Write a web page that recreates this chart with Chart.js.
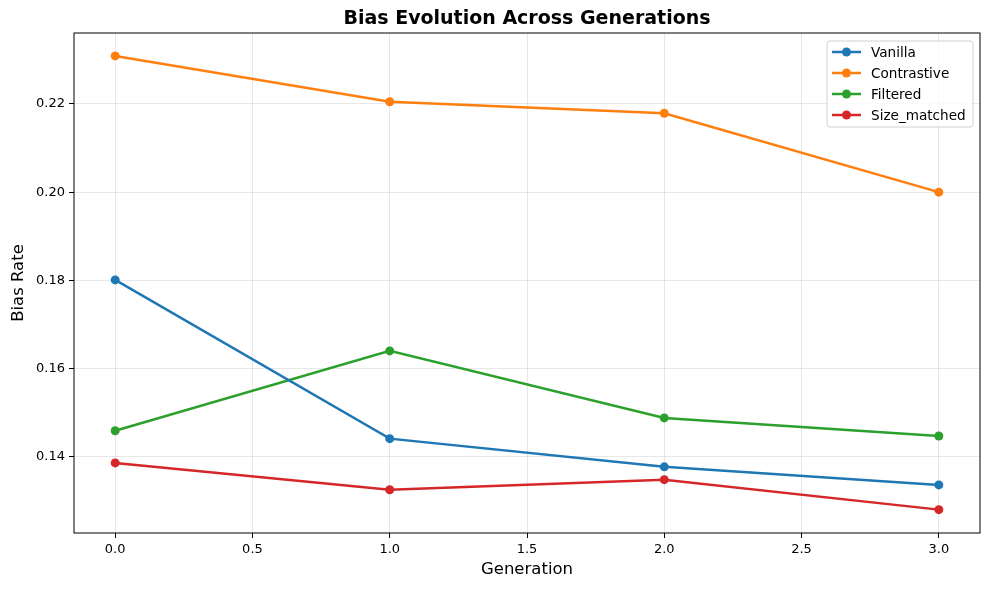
<!DOCTYPE html>
<html>
<head>
<meta charset="utf-8">
<script src="https://cdn.jsdelivr.net/npm/chart.js@4.4.1/dist/chart.umd.min.js"></script>
<style>
  body { margin: 0; background: #fff; }
  #wrap { width: 989px; height: 590px; }
</style>
</head>
<body>
<div id="wrap"><canvas id="c" width="989" height="590"></canvas></div>
<script>
var generations = [0, 1, 2, 3];
var vanilla = [0.1801, 0.1441, 0.1377, 0.1336];
var contrastive = [0.2309, 0.2205, 0.2179, 0.2000];
var filtered = [0.1459, 0.1640, 0.1488, 0.1447];
var sizeMatched = [0.1386, 0.1325, 0.1348, 0.1280];
var seriesNames = ['Vanilla', 'Contrastive', 'Filtered', 'Size_matched'];
var colors = ['#1f77b4', '#ff7f0e', '#2ca02c', '#d62728'];
var xTicks = [0, 0.5, 1, 1.5, 2, 2.5, 3];
var yTicks = [0.14, 0.16, 0.18, 0.20, 0.22];

var font = 'DejaVu Sans';

function pts(vals) {
  return generations.map(function(g, i) { return { x: g, y: vals[i] }; });
}

var datasets = [vanilla, contrastive, filtered, sizeMatched].map(function(vals, i) {
  return {
    label: seriesNames[i],
    data: pts(vals),
    borderColor: colors[i],
    backgroundColor: colors[i],
    borderWidth: 2.5,
    pointRadius: 4.5,
    pointHoverRadius: 4.5,
    pointBorderWidth: 0,
    tension: 0
  };
});

// frame, title and legend in matplotlib style
var extras = {
  id: 'extras',
  afterDraw: function(chart) {
    var ctx = chart.ctx, a = chart.chartArea;
    ctx.save();
    ctx.strokeStyle = '#000';
    ctx.lineWidth = 1;
    ctx.strokeRect(a.left, a.top, a.right - a.left, a.bottom - a.top);

    ctx.fillStyle = '#000';
    ctx.font = 'bold 19px ' + font;
    ctx.textAlign = 'center';
    ctx.textBaseline = 'middle';
    ctx.fillText('Bias Evolution Across Generations', (a.left + a.right) / 2, 19);

    // legend box
    var bx = 827, by = 41, bw = 146, bh = 86;
    ctx.fillStyle = 'rgba(255,255,255,0.8)';
    ctx.strokeStyle = '#d0d0d0';
    ctx.beginPath();
    if (ctx.roundRect) ctx.roundRect(bx, by, bw, bh, 3); else ctx.rect(bx, by, bw, bh);
    ctx.fill();
    ctx.stroke();
    ctx.font = '13.6px ' + font;
    ctx.textAlign = 'left';
    for (var i = 0; i < seriesNames.length; i++) {
      var y = 52 + i * 21;
      ctx.strokeStyle = colors[i];
      ctx.lineWidth = 2.5;
      ctx.beginPath();
      ctx.moveTo(832, y);
      ctx.lineTo(861, y);
      ctx.stroke();
      ctx.fillStyle = colors[i];
      ctx.beginPath();
      ctx.arc(846.5, y, 4.5, 0, Math.PI * 2);
      ctx.fill();
      ctx.fillStyle = '#000';
      ctx.fillText(seriesNames[i], 871, y + 1);
    }
    ctx.restore();
  }
};

new Chart(document.getElementById('c'), {
  type: 'line',
  data: { datasets: datasets },
  options: {
    responsive: false,
    animation: false,
    devicePixelRatio: 1,
    layout: { padding: { left: 0, right: 9, top: 33, bottom: 0 } },
    plugins: {
      legend: { display: false },
      title: { display: false },
      tooltip: { enabled: false }
    },
    scales: {
      x: {
        type: 'linear',
        min: -0.15,
        max: 3.15,
        afterBuildTicks: function(s) { s.ticks = xTicks.map(function(v) { return { value: v }; }); },
        afterFit: function(s) { s.height = 57; },
        ticks: {
          color: '#000',
          font: { family: font, size: 13 },
          padding: 4,
          maxRotation: 0,
          callback: function(v) { return Number(v).toFixed(1); }
        },
        grid: { color: 'rgba(176,176,176,0.3)', tickColor: '#000', tickLength: 5 },
        border: { display: false },
        title: {
          display: true,
          text: 'Generation',
          color: '#000',
          font: { family: font, size: 16.5 },
          padding: { top: 0, bottom: 10 }
        }
      },
      y: {
        type: 'linear',
        min: 0.1227,
        max: 0.2361,
        afterBuildTicks: function(s) { s.ticks = yTicks.map(function(v) { return { value: v }; }); },
        afterFit: function(s) { s.width = 74; },
        ticks: {
          color: '#000',
          font: { family: font, size: 13 },
          padding: 4,
          callback: function(v) { return Number(v).toFixed(2); }
        },
        grid: { color: 'rgba(176,176,176,0.3)', tickColor: '#000', tickLength: 5 },
        border: { display: false },
        title: {
          display: true,
          text: 'Bias Rate',
          color: '#000',
          font: { family: font, size: 16.5 },
          padding: { top: 9, bottom: 0 }
        }
      }
    }
  },
  plugins: [extras]
});
</script>
</body>
</html>
